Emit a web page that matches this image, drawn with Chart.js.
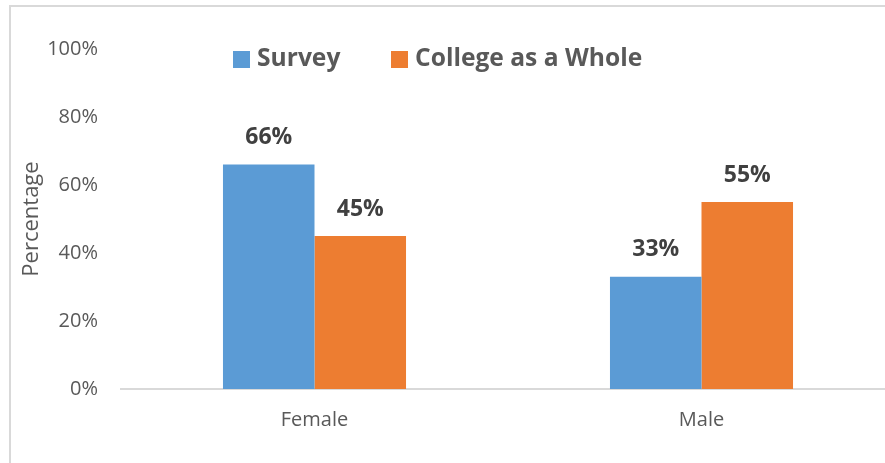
<!DOCTYPE html>
<html>
<head>
<meta charset="utf-8">
<script src="https://cdn.jsdelivr.net/npm/chart.js@4"></script>
<style>
  html, body { margin: 0; padding: 0; background: #fff; }
  #wrap { position: relative; width: 885px; height: 463px; overflow: hidden; }
  #frame { position: absolute; left: 9px; top: 5px; right: 0; bottom: -5px; border-left: 2px solid #d9d9d9; border-top: 2px solid #d9d9d9; }
  #box { position: absolute; left: 0; top: 0; width: 895px; height: 463px; }
</style>
</head>
<body>
<div id="wrap">
  <div id="frame"></div>
  <div id="box"><canvas id="chart"></canvas></div>
</div>
<script>
const categories = ['Female', 'Male'];
const seriesNames = ['Survey', 'College as a Whole'];
const surveyValues = [66, 33];
const collegeValues = [45, 55];
const yTicks = [0, 20, 40, 60, 80, 100];
const colors = ['#5b9bd5', '#ed7d31'];

const FONT = '"Open Sans", "Noto Sans", sans-serif';

// percentages above each bar
const valueLabels = {
  id: 'valueLabels',
  afterDatasetsDraw(chart) {
    const ctx = chart.ctx;
    ctx.save();
    ctx.font = 'bold 23px ' + FONT;
    ctx.fillStyle = '#404040';
    ctx.textAlign = 'center';
    ctx.textBaseline = 'middle';
    chart.data.datasets.forEach((ds, i) => {
      chart.getDatasetMeta(i).data.forEach((bar, j) => {
        ctx.fillText(ds.data[j] + '%', bar.x, bar.y - 27);
      });
    });
    ctx.restore();
  }
};

// legend sits inside the plot, like the original
const legendInside = {
  id: 'legendInside',
  afterDraw(chart) {
    const ctx = chart.ctx;
    const spots = [233, 391];
    ctx.save();
    ctx.font = 'bold 24.6px ' + FONT;
    ctx.textBaseline = 'middle';
    chart.data.datasets.forEach((ds, i) => {
      ctx.fillStyle = ds.backgroundColor;
      ctx.fillRect(spots[i], 51, 17, 17);
      ctx.fillStyle = '#595959';
      ctx.fillText(ds.label, spots[i] + 24, 59);
    });
    ctx.restore();
  }
};

new Chart(document.getElementById('chart'), {
  type: 'bar',
  data: {
    labels: categories,
    datasets: [
      { label: seriesNames[0], data: surveyValues, backgroundColor: colors[0] },
      { label: seriesNames[1], data: collegeValues, backgroundColor: colors[1] }
    ]
  },
  options: {
    responsive: true,
    maintainAspectRatio: false,
    animation: false,
    layout: { padding: { top: 49, left: 0, right: 0, bottom: 0 } },
    plugins: { legend: { display: false }, tooltip: { enabled: false } },
    datasets: { bar: { categoryPercentage: 0.473, barPercentage: 1 } },
    scales: {
      x: {
        grid: { display: false },
        border: { display: true, color: '#d9d9d9', width: 2 },
        ticks: { color: '#595959', font: { family: FONT, size: 20 }, padding: 11 },
        afterFit(scale) { scale.height = 74; }
      },
      y: {
        min: 0,
        max: 100,
        afterBuildTicks(scale) { scale.ticks = yTicks.map(v => ({ value: v })); },
        grid: { display: false },
        border: { display: false },
        ticks: {
          color: '#595959',
          font: { family: FONT, size: 20 },
          padding: 15,
          callback: v => v + '%'
        },
        title: {
          display: true,
          text: 'Percentage',
          color: '#595959',
          font: { family: FONT, size: 22 },
          padding: { top: 19, bottom: 0 }
        },
        afterFit(scale) { scale.width = 121; }
      }
    }
  },
  plugins: [valueLabels, legendInside]
});
</script>
</body>
</html>
